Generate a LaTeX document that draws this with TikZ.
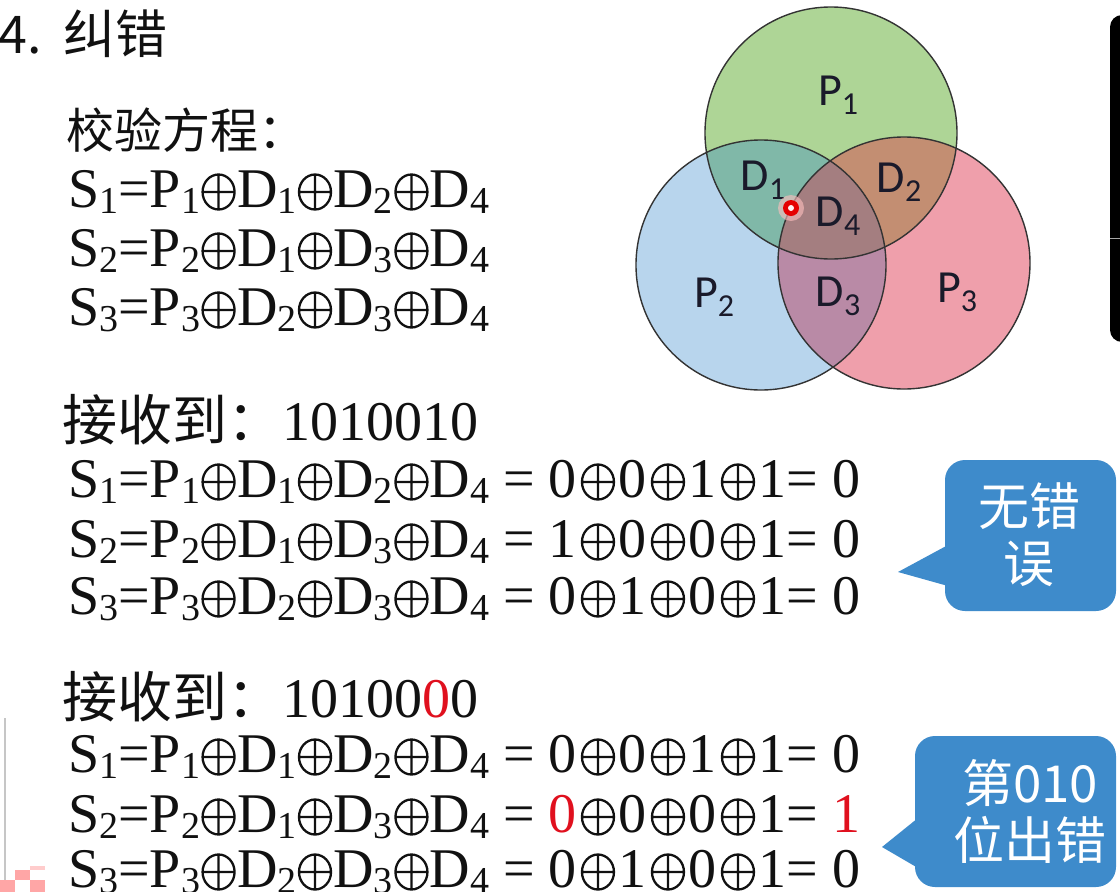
\documentclass[tikz,border=0pt]{standalone}
\usepackage{fontspec}
\usepackage{graphicx}
\newfontfamily\cjk{Noto Sans CJK SC}
\newfontfamily\tnr{Liberation Serif}
\newfontfamily\calfnt{Carlito}
\definecolor{eqred}{HTML}{E0101E}
\definecolor{txt}{HTML}{111111}
\definecolor{cg}{HTML}{AED596}
\definecolor{cb}{HTML}{B8D5ED}
\definecolor{cr}{HTML}{EF9FAB}
\definecolor{cgb}{HTML}{80B8A8}
\definecolor{cgr}{HTML}{C38E72}
\definecolor{cbr}{HTML}{B98AA6}
\definecolor{call3}{HTML}{A47E80}
\definecolor{call}{HTML}{3E8BCB}
\definecolor{vlab}{HTML}{1A1A2A}
\newcommand\lo[1]{\raisebox{-6pt}{\fontsize{38}{38}\selectfont #1}}
\newcommand\ox{\tikz[baseline=0pt]{\path (0pt,0pt) rectangle (37pt,1pt);
  \draw[line width=2.3pt, draw=txt] (18.5pt,15pt) ellipse[x radius=16pt, y radius=17.5pt]
    (2.5pt,15pt) -- (34.5pt,15pt) (18.5pt,-2.5pt) -- (18.5pt,32.5pt);}}
\newcommand\oxv{\hspace{2.5pt}\ox\hspace{2.5pt}}
\newcommand\vs[1]{\raisebox{-0.2em}{\fontsize{32}{32}\selectfont #1}}
\newcommand\rd[1]{\textcolor{eqred}{#1}}
\tikzset{
  eq/.style={anchor=base west, inner sep=0pt, text=txt, font=\tnr\fontsize{56}{66}\selectfont},
  cjkline/.style={anchor=base west, inner sep=0pt, text=txt, font=\cjk\fontsize{48}{58}\selectfont},
  vlabel/.style={inner sep=0pt, text=vlab, font=\calfnt\fontsize{46}{54}\selectfont},
  calltext/.style={inner sep=0pt, text=white, align=center, font=\cjk\fontsize{51}{57}\selectfont},
  callbody/.style={fill=call},
  ring/.style={draw=black!80, line width=1.4pt}
}
\begin{document}
\begin{tikzpicture}[x=1pt,y=-1pt]
\useasboundingbox (0,0) rectangle (1120,892);
\fill[white] (0,0) rectangle (1120,892);

% title
\node[anchor=base west, inner sep=0pt, text=txt, font=\cjk\fontsize{52}{60}\selectfont] (title) at (-2,53) {4.\hspace{22pt}纠错};

% block 1
\node[cjkline] (h1) at (66,148) {校验方程：};
\node[eq] (e11) at (68,207) {S\lo1=P\lo1\ox D\lo1\ox D\lo2\ox D\lo4};
\node[eq] (e12) at (68,266) {S\lo2=P\lo2\ox D\lo1\ox D\lo3\ox D\lo4};
\node[eq] (e13) at (68,325) {S\lo3=P\lo3\ox D\lo2\ox D\lo3\ox D\lo4};

% block 2
\node[eq] (h2) at (62,440) {{\cjk\fontsize{55}{60}\selectfont 接收到：}1010010};
\node[eq] (e21) at (68,497) {S\lo1=P\lo1\ox D\lo1\ox D\lo2\ox D\lo4 = 0\oxv0\oxv1\oxv1= 0};
\node[eq] (e22) at (68,557) {S\lo2=P\lo2\ox D\lo1\ox D\lo3\ox D\lo4 = 1\oxv0\oxv0\oxv1= 0};
\node[eq] (e23) at (68,614) {S\lo3=P\lo3\ox D\lo2\ox D\lo3\ox D\lo4 = 0\oxv1\oxv0\oxv1= 0};

% block 3
\node[eq] (h3) at (62,717) {{\cjk\fontsize{55}{60}\selectfont 接收到：}10100\rd{0}0};
\node[eq] (e31) at (68,772) {S\lo1=P\lo1\ox D\lo1\ox D\lo2\ox D\lo4 = 0\oxv0\oxv1\oxv1= 0};
\node[eq] (e32) at (68,832) {S\lo2=P\lo2\ox D\lo1\ox D\lo3\ox D\lo4 = \rd{0}\oxv0\oxv0\oxv1= \rd{1}};
\node[eq] (e33) at (68,887) {S\lo3=P\lo3\ox D\lo2\ox D\lo3\ox D\lo4 = 0\oxv1\oxv0\oxv1= 0};

% Venn diagram
\fill[cg] (831,133) circle[radius=126];
\fill[cb] (761,265) circle[radius=125];
\fill[cr] (904,263) circle[radius=126];
\begin{scope}
  \clip (831,133) circle[radius=126];
  \fill[cgb] (761,265) circle[radius=125];
  \fill[cgr] (904,263) circle[radius=126];
\end{scope}
\begin{scope}
  \clip (761,265) circle[radius=125];
  \fill[cbr] (904,263) circle[radius=126];
\end{scope}
\begin{scope}
  \clip (831,133) circle[radius=126];
  \clip (761,265) circle[radius=125];
  \fill[call3] (904,263) circle[radius=126];
\end{scope}
\draw[ring] (831,133) circle[radius=126];
\draw[ring] (761,265) circle[radius=125];
\draw[ring] (904,263) circle[radius=126];

\node[vlabel] (lp1) at (838,95) {P\vs1};
\node[vlabel] (ld1) at (763,180) {D\vs1};
\node[vlabel] (ld2) at (899,182) {D\vs2};
\node[vlabel] (ld4) at (838,216) {D\vs4};
\node[vlabel] (ld3) at (838,296) {D\vs3};
\node[vlabel] (lp2) at (714,297) {P\vs2};
\node[vlabel] (lp3) at (957,292) {P\vs3};

% laser dot
\fill[red!25, opacity=0.6] (791,208) circle[radius=13];
\fill[red!90!black] (791,208) circle[radius=8];
\fill[white!80!pink] (791,208) circle[radius=3];

% callouts
\fill[callbody, rounded corners=20] (945,460) rectangle (1116,611);
\fill[callbody] (948,545) -- (898,572) -- (948,586) -- cycle;
\node[calltext] (c1) at (1029,535) {无错\\误};

\fill[callbody, rounded corners=20] (915,736) rectangle (1116,887);
\fill[callbody] (918,818) -- (882,847) -- (918,868) -- cycle;
\node[calltext] (c2) at (1030,811) {第010\\位出错};

% screen artefacts
\fill[black, rounded corners=12] (1110,15) rectangle (1150,342);
\draw[gray!70, line width=1pt] (1110,238) -- (1120,238);
\draw[gray!45, line width=1.5pt] (5,718) -- (5,892);
\fill[red!35] (0,880) rectangle (15,892);
\fill[red!35] (15,870) rectangle (30,880);
\fill[red!35] (30,880) rectangle (45,892);
\fill[red!20] (30,866) rectangle (45,870);
\end{tikzpicture}
\end{document}
